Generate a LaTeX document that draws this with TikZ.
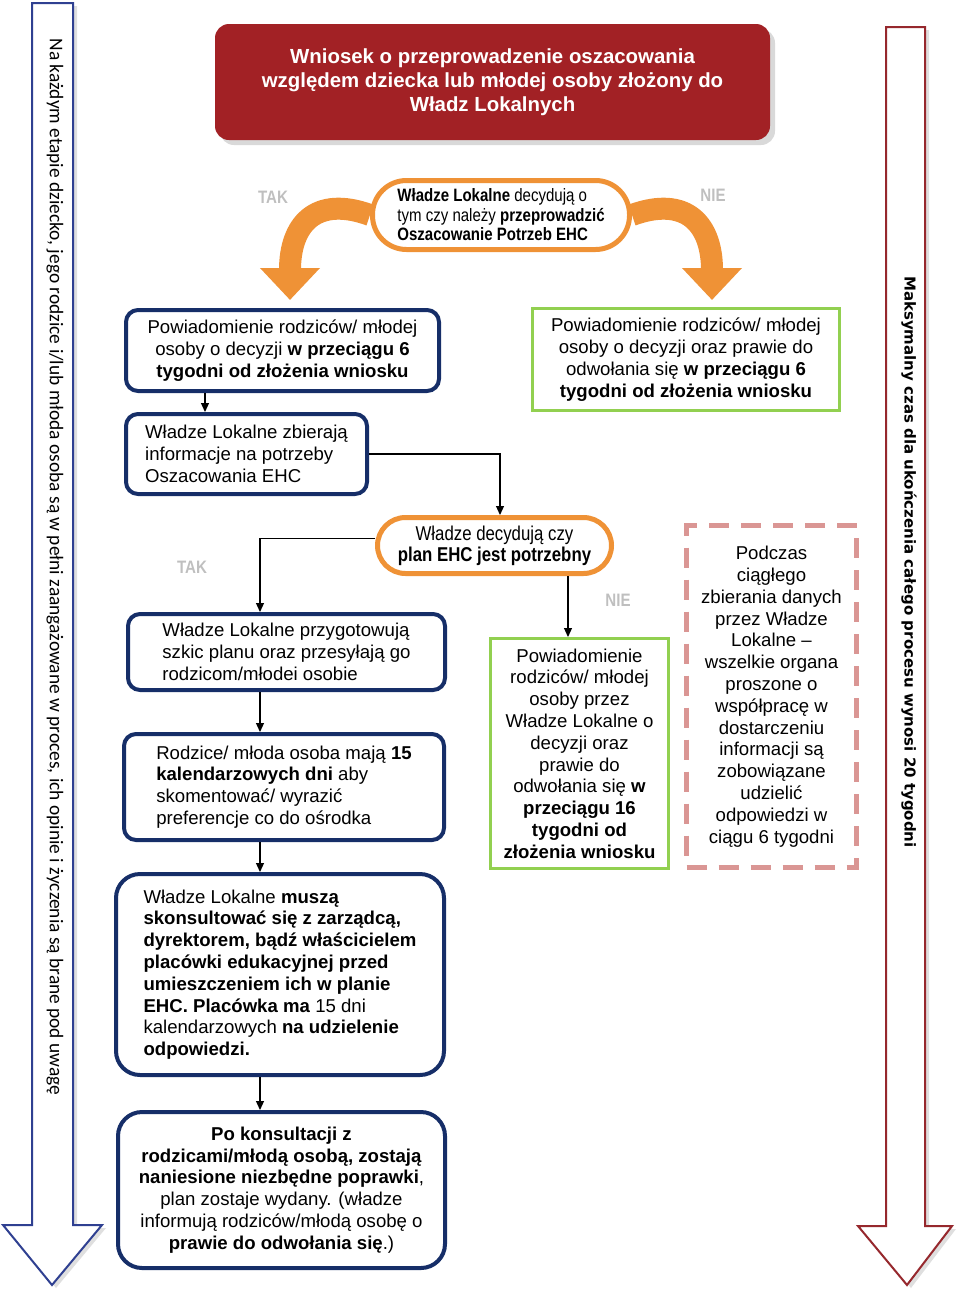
\documentclass[tikz,border=0pt]{standalone}
\usepackage{fontspec}
\setmainfont{Liberation Sans}
\newfontfamily\narrowfont[FakeStretch=0.84]{Liberation Sans}
\newfontfamily\sidefont{Carlito}
\newfontfamily\verdfont{DejaVu Sans}
\usetikzlibrary{arrows.meta,shadows}

\definecolor{titlered}{RGB}{162,33,37}
\definecolor{orangeline}{RGB}{239,146,54}
\definecolor{navy}{RGB}{22,46,104}
\definecolor{leafgreen}{RGB}{146,208,80}
\definecolor{dashpink}{RGB}{218,150,148}
\definecolor{greylabel}{RGB}{191,191,191}
\definecolor{sideblue}{RGB}{47,64,145}
\definecolor{sidered}{RGB}{150,40,45}

\def\boxfont{\fontsize{18.6}{21.8}\selectfont}

\begin{document}
\begin{tikzpicture}[x=1pt,y=-1pt]
	\tikzstyle{title_box} = [fill=titlered, rounded corners=14pt, minimum width=555pt, minimum height=116pt, text=white, align=center, font=\bfseries\fontsize{20.4}{24}\selectfont, drop shadow={shadow xshift=5pt, shadow yshift=-5pt, opacity=0.3}]
	\tikzstyle{decision} = [draw=orangeline, line width=5pt, fill=white, font=\narrowfont\fontsize{17.9}{19.5}\selectfont]
	\tikzstyle{box_l} = [draw=navy, line width=4pt, rounded corners=12pt, fill=white, inner sep=2pt, font=\boxfont]
	\tikzstyle{box_r} = [draw=leafgreen, line width=3pt, fill=white, inner sep=2pt, align=center, font=\boxfont]
	\tikzstyle{note} = [draw=dashpink, line width=5pt, dash pattern=on 20pt off 12pt, inner sep=2pt, align=center, font=\boxfont]
	\tikzstyle{answer} = [text=greylabel, font=\narrowfont\bfseries\fontsize{18}{20}\selectfont]
	\tikzstyle{edge} = [line width=1.2pt, -{Triangle[length=9pt,width=8pt]}]
	\tikzstyle{bend_arrow} = [orangeline, line width=22pt, -{Triangle[length=32pt,width=58pt]}]
	\tikzstyle{side_l} = [draw=sideblue, line width=2pt, fill=white, drop shadow={shadow xshift=4pt, shadow yshift=-3pt, opacity=0.25}]
	\tikzstyle{side_r} = [draw=sidered, line width=2pt, fill=white, drop shadow={shadow xshift=4pt, shadow yshift=-3pt, opacity=0.25}]

	\useasboundingbox (0,0) rectangle (960,1293);

	%side arrows
	\draw[side_l] (32,3) -- (73,3) -- (73,1225) -- (102,1225) -- (52,1285) -- (3,1225) -- (32,1225) -- cycle;
	\node[rotate=-90, font=\sidefont\fontsize{19.4}{21}\selectfont] (involve) at (55,567) {Na każdym etapie dziecko, jego rodzice i/lub młoda osoba są w pełni zaangażowane w proces, ich opinie i życzenia są brane pod uwagę};
	\draw[side_r] (886,27) -- (925,27) -- (925,1226) -- (952,1226) -- (907,1285) -- (858,1226) -- (886,1226) -- cycle;
	\node[rotate=-90, font=\verdfont\bfseries\fontsize{15}{17}\selectfont] (deadline) at (909,562) {Maksymalny czas dla ukończenia całego procesu wynosi 20 tygodni};

	\node[title_box] (request) at (492.5,82) {Wniosek o przeprowadzenie oszacowania\\ względem dziecka lub młodej osoby złożony do\\ Władz Lokalnych};

	\node[decision, minimum width=257pt, minimum height=69pt, rounded corners=34pt, align=left] (decide_a) at (501,215) {\textbf{Władze Lokalne} decydują o\\ tym czy należy \textbf{przeprowadzić}\\ \textbf{Oszacowanie Potrzeb EHC}};
	\draw[bend_arrow] (decide_a.west) .. controls (315,195) and (290,225) .. (290,300);
	\draw[bend_arrow] (decide_a.east) .. controls (687,195) and (712,225) .. (712,300);
	\node[answer] (yes_a) at (273,197) {TAK};
	\node[answer] (no_a) at (713,195) {NIE};

	%left column
	\node[box_l, minimum width=313pt, minimum height=81pt, align=center] (notice_l) at (282.5,350.5) {Powiadomienie rodziców/ młodej\\ osoby o decyzji \textbf{w przeciągu 6}\\ \textbf{tygodni od złożenia wniosku}};
	\node[box_l, minimum width=241pt, minimum height=80pt, align=left] (collect) at (246.5,454) {Władze Lokalne zbierają\\ informacje na potrzeby\\ Oszacowania EHC};
	\node[box_l, minimum width=317pt, minimum height=76pt, align=left] (draft) at (286.5,652) {Władze Lokalne przygotowują\\ szkic planu oraz przesyłają go\\ rodzicom/młodei osobie};
	\node[box_l, minimum width=320pt, minimum height=106pt, align=left] (comment) at (284,787) {Rodzice/ młoda osoba mają \textbf{15}\\ \textbf{kalendarzowych dni} aby\\ skomentować/ wyrazić\\ preferencje co do ośrodka};
	\node[box_l, minimum width=328pt, minimum height=201pt, rounded corners=24pt, align=left] (consult) at (280,974.5) {Władze Lokalne \textbf{muszą}\\ \textbf{skonsultować się z zarządcą,}\\ \textbf{dyrektorem, bądź właścicielem}\\ \textbf{placówki edukacyjnej przed}\\ \textbf{umieszczeniem ich w planie}\\ \textbf{EHC. Placówka ma} 15 dni\\ kalendarzowych \textbf{na udzielenie}\\ \textbf{odpowiedzi.}};
	\node[box_l, minimum width=327pt, minimum height=156pt, rounded corners=24pt, align=center] (final) at (281.5,1190) {\textbf{Po konsultacji z}\\ \textbf{rodzicami/młodą osobą, zostają}\\ \textbf{naniesione niezbędne poprawki},\\ plan zostaje wydany. (władze\\ informują rodziców/młodą osobę o\\ \textbf{prawie do odwołania się}.)};

	%right column
	\node[box_r, minimum width=307pt, minimum height=102pt] (notice_r) at (686,359.5) {Powiadomienie rodziców/ młodej\\ osoby o decyzji oraz prawie do\\ odwołania się \textbf{w przeciągu 6}\\ \textbf{tygodni od złożenia wniosku}};
	\node[decision, minimum width=234pt, minimum height=56pt, rounded corners=28pt, align=center, font=\narrowfont\fontsize{20}{21}\selectfont] (decide_b) at (494.5,545.5) {Władze decydują czy\\ \textbf{plan EHC jest potrzebny}};
	\node[box_r, minimum width=178pt, minimum height=230pt] (notice_n) at (579.5,753.5) {Powiadomienie\\ rodziców/ młodej\\ osoby przez\\ Władze Lokalne o\\ decyzji oraz\\ prawie do\\ odwołania się \textbf{w}\\ \textbf{przeciągu 16}\\ \textbf{tygodni od}\\ \textbf{złożenia wniosku}};
	\node[note, minimum width=170pt, minimum height=342pt] (collect_note) at (771.5,696.5) {Podczas\\ ciągłego\\ zbierania danych\\ przez Władze\\ Lokalne –\\ wszelkie organa\\ proszone o\\ współpracę w\\ dostarczeniu\\ informacji są\\ zobowiązane\\ udzielić\\ odpowiedzi w\\ ciągu 6 tygodni};
	\node[answer] (yes_b) at (192,567) {TAK};
	\node[answer] (no_b) at (618,600) {NIE};

	\coordinate (tap) at (205,0);
	\coordinate (drop) at (500,0);
	\coordinate (spine) at (260,0);
	\coordinate (nobranch) at (568,0);

	\draw[edge] (notice_l.south -| tap) -- (collect.north -| tap);
	\draw[edge] (collect.east) -| (decide_b.north -| drop);
	\draw[edge] ([yshift=7pt]decide_b.west) -| (draft.north -| spine);
	\draw[edge] (decide_b.south -| nobranch) -- (notice_n.north -| nobranch);
	\foreach \from/\to in {draft/comment, comment/consult, consult/final}
		\draw[edge] (\from.south -| spine) -- (\to.north -| spine);

\end{tikzpicture}
\end{document}
